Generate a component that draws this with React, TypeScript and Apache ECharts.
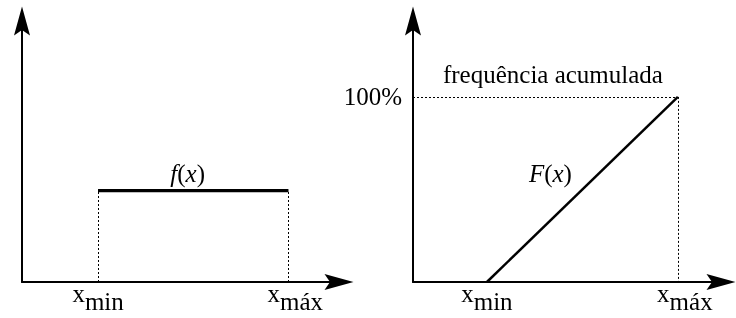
import React, { useEffect, useRef } from 'react';
import * as echarts from 'echarts';

// ---- data ----
const boundLabels = ['min', 'máx'];
const pdfBounds = [2.4, 8.4];
const pdfLevel = 0.35;
const cdfBounds = [2.4, 8.6];
const cdfLevels = [0, 100];
const cdfTopTick = [100];
const cdfTopLabel = '100%';
const cdfCaption = 'frequência acumulada';

const FONT = 'Liberation Serif';
const FS = 25;

const base = { fontFamily: FONT, fontSize: FS, color: '#000' };

const richLabels = {
  x: { ...base },
  xr: { ...base, padding: [0, 0, 0, 14] },
  s: { ...base, padding: [16, 0, 0, 0] },
};
const richItalic = {
  i: { ...base, fontStyle: 'italic' },
  n: { ...base },
};

const arrowHead = 'path://M8,0 L16,29 L8,23.5 L0,29 Z';

const axisLineStyle = {
  show: true,
  lineStyle: { color: '#000', width: 2 },
  symbol: ['none', arrowHead],
  symbolSize: [16, 29],
  symbolOffset: [0, 0],
};

function xAxisFor(gridIndex: number, bounds: number[]) {
  return {
    type: 'value',
    gridIndex,
    min: 0,
    max: 10,
    axisLine: axisLineStyle,
    axisTick: { show: false },
    splitLine: { show: false },
    axisLabel: {
      customValues: bounds,
      margin: -9,
      ...base,
      formatter: (v: number) =>
        v === bounds[0] ? `{x|x}{s|${boundLabels[0]}}` : `{xr|x}{s|${boundLabels[1]}}`,
      rich: richLabels,
    },
  };
}

export default function App() {
  const ref = useRef<HTMLDivElement>(null);
  useEffect(() => {
    if (!ref.current) return;
    const chart = echarts.init(ref.current, null, { renderer: 'svg' });
    const dotted = { type: [2, 2], width: 1, color: '#000' };
    chart.setOption({
      animation: false,
      textStyle: { ...base },
      grid: [
        { left: 22, top: 21, width: 317, height: 261 },
        { left: 413, top: 21, width: 308, height: 261 },
      ],
      xAxis: [xAxisFor(0, pdfBounds), xAxisFor(1, cdfBounds)],
      yAxis: [
        {
          type: 'value', gridIndex: 0, min: 0, max: 1,
          axisLine: axisLineStyle, axisTick: { show: false }, splitLine: { show: false },
          axisLabel: { show: false },
        },
        {
          type: 'value', gridIndex: 1, min: 0, max: 141,
          axisLine: axisLineStyle, axisTick: { show: false }, splitLine: { show: false },
          axisLabel: {
            customValues: cdfTopTick,
            margin: 11,
            formatter: () => cdfTopLabel,
            ...base,
          },
        },
      ],
      series: [
        {
          type: 'line',
          xAxisIndex: 0, yAxisIndex: 0,
          data: [[pdfBounds[0], pdfLevel], [pdfBounds[1], pdfLevel]],
          symbol: 'none',
          silent: true,
          lineStyle: { color: '#000', width: 3 },
          markLine: {
            silent: true,
            symbol: ['none', 'none'],
            lineStyle: dotted,
            label: { show: false },
            emphasis: { disabled: true },
            data: [
              [{ coord: [pdfBounds[0], 0] }, { coord: [pdfBounds[0], pdfLevel] }],
              [{ coord: [pdfBounds[1], 0] }, { coord: [pdfBounds[1], pdfLevel] }],
              [
                {
                  coord: [pdfBounds[0], pdfLevel],
                  lineStyle: { type: 'solid', width: 3, color: '#000' },
                  label: {
                    show: true,
                    position: 'insideMiddleTop',
                    distance: 5,
                    formatter: '{i|f}{n|(}{i|x}{n|)}',
                    rich: richItalic,
                    ...base,
                    padding: [0, 11, 0, 0],
                  },
                },
                { coord: [pdfBounds[1], pdfLevel] },
              ],
            ],
          },
        },
        {
          type: 'line',
          xAxisIndex: 1, yAxisIndex: 1,
          data: [[cdfBounds[0], cdfLevels[0]], [cdfBounds[1], cdfLevels[1]]],
          symbol: 'none',
          silent: true,
          lineStyle: { color: '#000', width: 2.5 },
          markLine: {
            silent: true,
            symbol: ['none', 'none'],
            lineStyle: dotted,
            label: { show: false },
            emphasis: { disabled: true },
            data: [
              [
                {
                  coord: [0, cdfLevels[1]],
                  label: {
                    show: true,
                    position: 'insideMiddleTop',
                    distance: 10,
                    formatter: cdfCaption,
                    ...base,
                    padding: [0, 0, 0, 15],
                  },
                },
                { coord: [cdfBounds[1], cdfLevels[1]] },
              ],
              [{ coord: [cdfBounds[1], cdfLevels[1]] }, { coord: [cdfBounds[1], cdfLevels[0]] }],
            ],
          },
          markPoint: {
            silent: true,
            symbol: 'circle',
            symbolSize: 0,
            data: [
              {
                coord: [(cdfBounds[0] + cdfBounds[1]) / 2, (cdfLevels[0] + cdfLevels[1]) / 2],
                label: {
                  show: true,
                  position: 'inside',
                  offset: [-32, -16],
                  formatter: '{i|F}{n|(}{i|x}{n|)}',
                  rich: richItalic,
                  ...base,
                },
              },
            ],
          },
        },
      ],
    });
    return () => chart.dispose();
  }, []);
  return <div ref={ref} style={{ width: 736, height: 318, position: 'fixed', left: 0, top: 0 }} />;
}
